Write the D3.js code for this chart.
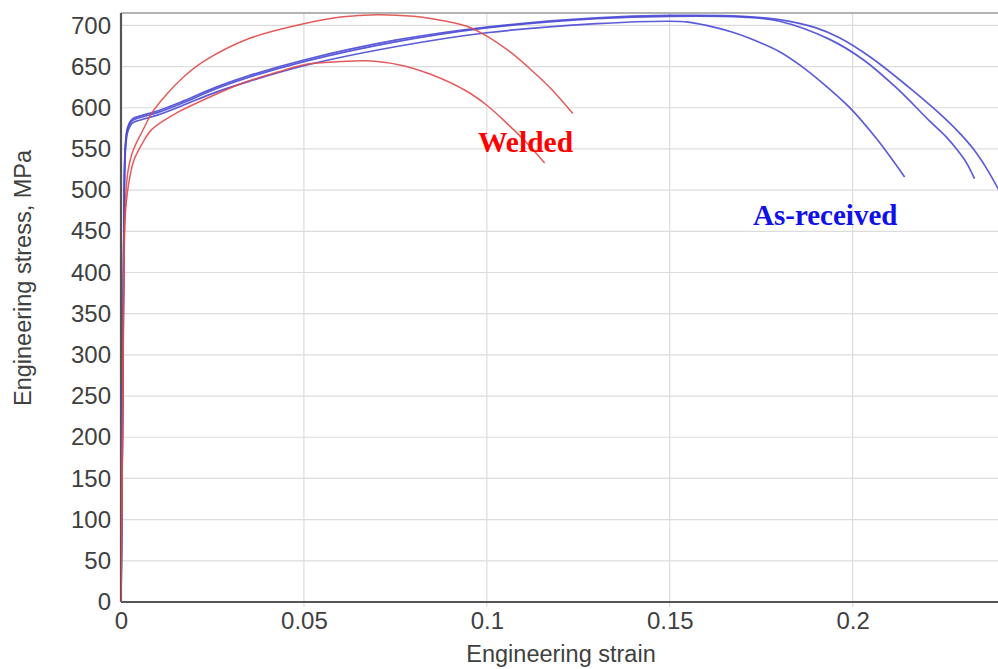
<!DOCTYPE html>
<html>
<head>
<meta charset="utf-8">
<script src="https://cdn.jsdelivr.net/npm/d3@7"></script>
<style>
  html, body { margin: 0; padding: 0; background: #fff; }
  svg { display: block; }
</style>
</head>
<body>
<svg id="chart" width="998" height="669"></svg>
<script>
// ---- Data (strain, engineering stress MPa) ----
const xTicks = [0, 0.05, 0.1, 0.15, 0.2];
const xTickLabels = ["0", "0.05", "0.1", "0.15", "0.2"];
const yTicks = [0, 50, 100, 150, 200, 250, 300, 350, 400, 450, 500, 550, 600, 650, 700];

const welded1 = [
  [0, 0], [0.0004, 200], [0.0008, 400], [0.0011, 470], [0.0018, 520], [0.0033, 548],
  [0.006, 573], [0.0085, 594], [0.0126, 617], [0.017, 637], [0.0225, 656],
  [0.035, 684], [0.05, 702], [0.06, 710], [0.07, 713], [0.08, 711], [0.085, 708],
  [0.0945, 699], [0.1, 687], [0.1063, 668], [0.1126, 644], [0.118, 621], [0.1235, 593]
];
const welded2 = [
  [0, 0], [0.0004, 200], [0.0008, 400], [0.0011, 465], [0.002, 505], [0.0035, 536],
  [0.006, 558], [0.0085, 574], [0.0153, 594], [0.0243, 613], [0.0333, 630],
  [0.0426, 643], [0.051, 653], [0.06, 656], [0.067, 657], [0.0762, 652],
  [0.085, 640], [0.0945, 620], [0.1, 603], [0.1055, 581], [0.111, 557], [0.1158, 533]
];
const asReceivedA = [
  [0, 0], [0.0003, 150], [0.0006, 350], [0.0009, 500], [0.0012, 548], [0.0018, 570],
  [0.003, 581], [0.006, 586], [0.01, 591], [0.017, 603], [0.026, 619], [0.035, 632],
  [0.05, 651], [0.075, 674], [0.1, 691], [0.13, 702], [0.15, 705], [0.155, 704],
  [0.16, 700], [0.167, 692], [0.172, 684], [0.18, 668], [0.1855, 652], [0.192, 629],
  [0.199, 601], [0.2066, 562], [0.2142, 516]
];
const asReceivedB = [
  [0, 0], [0.0003, 150], [0.0006, 350], [0.0009, 505], [0.0012, 552], [0.0018, 574],
  [0.003, 584], [0.006, 589], [0.01, 594], [0.017, 606], [0.026, 623], [0.035, 637],
  [0.05, 656], [0.075, 680], [0.1, 697], [0.13, 708], [0.15, 711], [0.17, 710],
  [0.18, 705], [0.1937, 683], [0.203, 658], [0.212, 624], [0.221, 584], [0.2255, 565],
  [0.2284, 550], [0.231, 534], [0.2333, 514]
];
const asReceivedC = [
  [0, 0], [0.0003, 150], [0.0006, 350], [0.0009, 508], [0.0012, 555], [0.0018, 576],
  [0.003, 586], [0.006, 591], [0.01, 596], [0.017, 608], [0.026, 625], [0.035, 639],
  [0.05, 658], [0.075, 682], [0.1, 698], [0.13, 709], [0.15, 712], [0.17, 711],
  [0.18, 707], [0.19, 697], [0.1964, 685], [0.205, 661], [0.2164, 621], [0.2257, 585],
  [0.2295, 568], [0.2328, 551], [0.2365, 527], [0.2396, 503], [0.2415, 487]
];

const weldedSeries = [welded1, welded2];
const asReceivedSeries = [asReceivedA, asReceivedB, asReceivedC];

// ---- Chart ----
(function () {
const svg = d3.select("#chart");
const W = 998, H = 669;
const mLeft = 121, mRight = 999, mTop = 13, mBottom = 602;

const x = d3.scaleLinear().domain([0, 0.24]).range([mLeft, mRight]);
const y = d3.scaleLinear().domain([0, 715]).range([mBottom, mTop]);

svg.append("defs").append("clipPath").attr("id", "plotclip")
  .append("rect").attr("x", mLeft).attr("y", mTop).attr("width", W - mLeft).attr("height", mBottom - mTop);

// grid
const grid = svg.append("g");
grid.selectAll("line.h").data(yTicks.filter(d => d > 0)).join("line")
  .attr("x1", mLeft).attr("x2", W).attr("y1", d => y(d)).attr("y2", d => y(d))
  .attr("stroke", "#dcdcdc").attr("stroke-width", 1.2);
grid.selectAll("line.v").data(xTicks.filter(d => d > 0)).join("line")
  .attr("x1", d => x(d)).attr("x2", d => x(d)).attr("y1", mTop).attr("y2", mBottom + 5)
  .attr("stroke", "#dcdcdc").attr("stroke-width", 1.2);

// top frame
svg.append("line").attr("x1", mLeft).attr("x2", W).attr("y1", mTop).attr("y2", mTop)
  .attr("stroke", "#9a9a9a").attr("stroke-width", 1.5);

// axes
const xAxis = svg.append("g").attr("transform", `translate(0,${mBottom})`)
  .call(d3.axisBottom(x).tickValues(xTicks).tickFormat((d, i) => xTickLabels[i]).tickSize(0).tickPadding(10));
const yAxis = svg.append("g").attr("transform", `translate(${mLeft},0)`)
  .call(d3.axisLeft(y).tickValues(yTicks).tickSize(0).tickPadding(10));
[xAxis, yAxis].forEach(a => {
  a.select(".domain").attr("stroke", "#555").attr("stroke-width", 2.2);
  a.selectAll("text").attr("font-family", "Liberation Sans, Arial, sans-serif")
    .attr("font-size", 24).attr("fill", "#404040");
});
xAxis.select(".domain").attr("d", `M${mLeft},0H${W}`);
yAxis.select(".domain").attr("d", `M0,${mTop}V${mBottom}`);

// curves
const line = d3.line().x(d => x(d[0])).y(d => y(d[1])).curve(d3.curveCatmullRom.alpha(0.5));
const plot = svg.append("g").attr("clip-path", "url(#plotclip)");
plot.selectAll("path.as").data(asReceivedSeries).join("path")
  .attr("d", line).attr("fill", "none").attr("stroke", "#4a4ad4").attr("stroke-width", 1.7)
  .attr("stroke-opacity", 0.9);
plot.selectAll("path.we").data(weldedSeries).join("path")
  .attr("d", line).attr("fill", "none").attr("stroke", "#e04a4a").attr("stroke-width", 1.5)
  .attr("stroke-opacity", 0.9);

// labels
svg.append("text").attr("x", 478).attr("y", 152)
  .attr("font-family", "Liberation Serif, Times New Roman, serif").attr("font-weight", "bold")
  .attr("font-size", 29.5).attr("fill", "#ff0000").text("Welded");
svg.append("text").attr("x", 753).attr("y", 225)
  .attr("font-family", "Liberation Serif, Times New Roman, serif").attr("font-weight", "bold")
  .attr("font-size", 29).attr("fill", "#1010e8").text("As-received");

// axis titles
svg.append("text").attr("x", 561).attr("y", 662).attr("text-anchor", "middle")
  .attr("font-family", "Liberation Sans, Arial, sans-serif").attr("font-size", 23.5)
  .attr("fill", "#404040").text("Engineering strain");
svg.append("text").attr("transform", "translate(31,278) rotate(-90)").attr("text-anchor", "middle")
  .attr("font-family", "Liberation Sans, Arial, sans-serif").attr("font-size", 23.5)
  .attr("fill", "#404040").text("Engineering stress, MPa");
})();
</script>
</body>
</html>
